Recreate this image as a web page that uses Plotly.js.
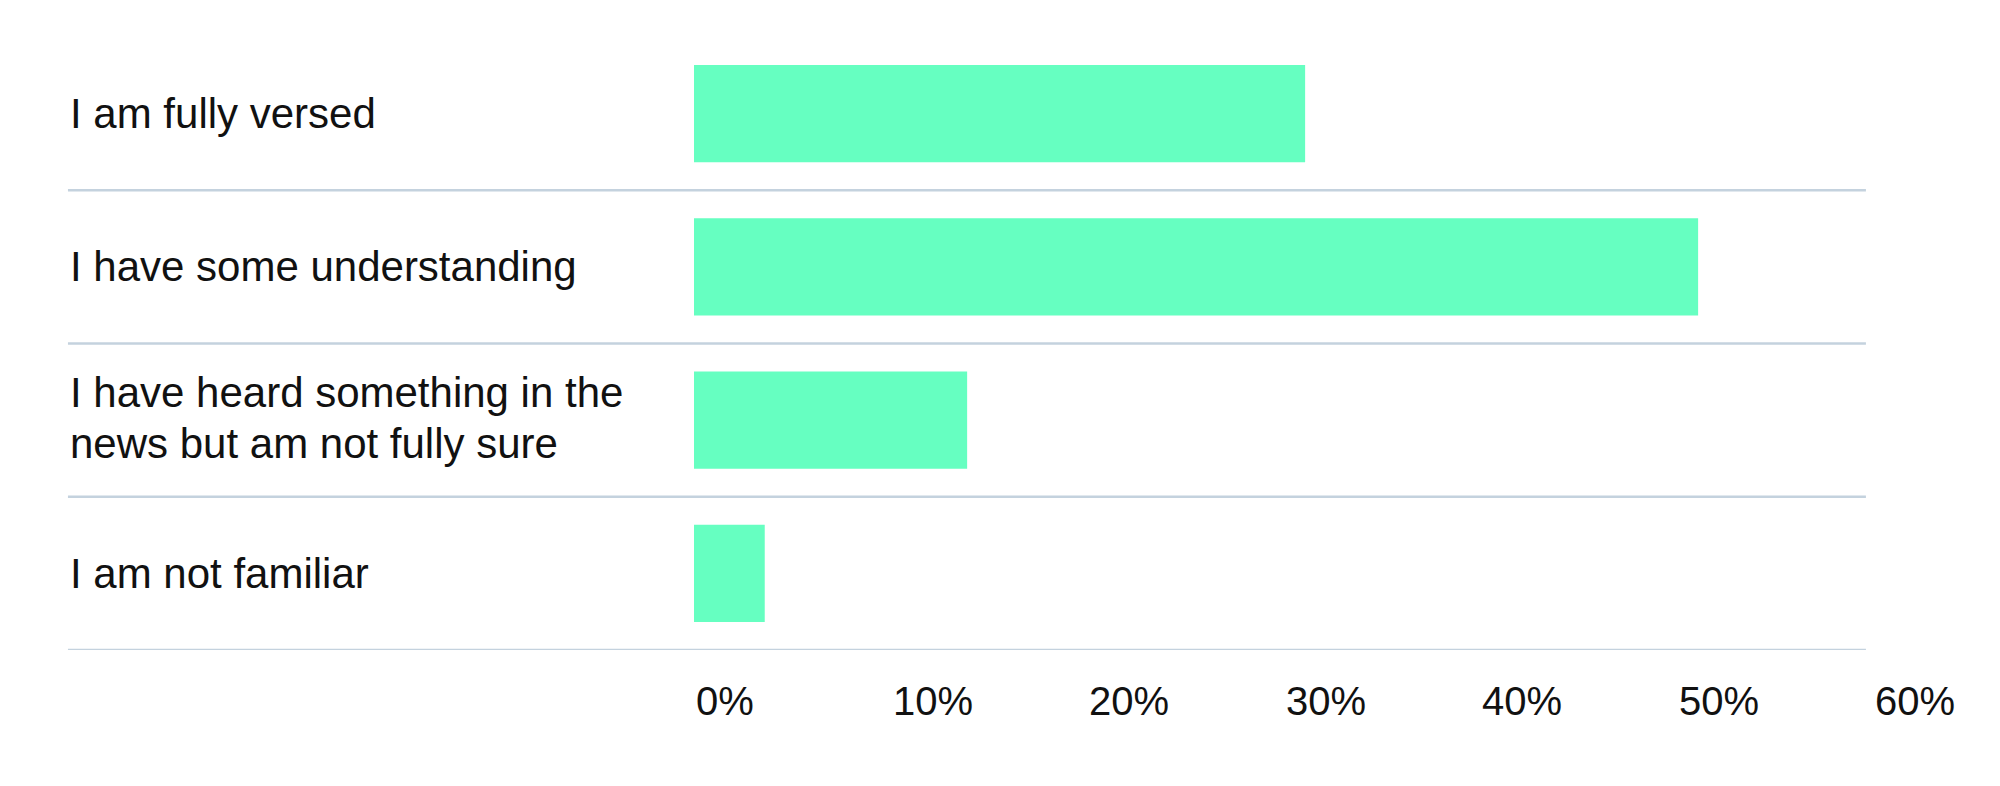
<!DOCTYPE html>
<html>
<head>
<meta charset="utf-8">
<script src="https://cdn.plot.ly/plotly-3.0.1.min.js"></script>
<style>
  html, body { margin: 0; padding: 0; background: #ffffff; }
  #chart { width: 2000px; height: 786px; }
</style>
</head>
<body>
<div id="chart"></div>
<script>
// ---- data ----
const categories = [
  "I am fully versed",
  "I have some understanding",
  "I have heard something in the<br>news but am not fully sure",
  "I am not familiar"
];
const values = [31.1, 51.1, 13.9, 3.6];
const tickValues = [0, 10, 20, 30, 40, 50, 60];
const tickLabels = ["0%", "10%", "20%", "30%", "40%", "50%", "60%"];

// ---- styling ----
const barColor = "#66ffc1";
const lineColor = "#c4d2de";
const textColor = "#111111";
const fontFamily = "Liberation Sans, Arial, sans-serif";
const labelLineHeight = 51;

const idx = categories.map((_, i) => i);

const trace = {
  type: "bar",
  orientation: "h",
  x: values,
  y: idx,
  marker: { color: barColor, line: { width: 0 } },
  width: 0.633,
  hoverinfo: "skip"
};

// separator lines below each category
const shapes = idx.map(i => ({
  type: "line",
  xref: "paper", yref: "y",
  x0: -0.531, x1: 0.994,
  y0: i + 0.5, y1: i + 0.5,
  line: { color: lineColor, width: 2.5 }
}));

// left-aligned category labels, one annotation per text line
const annotations = [];
categories.forEach((c, i) => {
  const lines = c.split("<br>");
  lines.forEach((ln, j) => {
    annotations.push({
      xref: "paper", yref: "y",
      x: -0.531, y: i,
      xanchor: "left", yanchor: "middle",
      align: "left",
      yshift: -(j - (lines.length - 1) / 2) * labelLineHeight + (lines.length > 1 ? 2 : 0),
      text: ln,
      showarrow: false,
      font: { family: fontFamily, size: 42, color: textColor }
    });
  });
});

// left-aligned x tick labels placed at the axis values
tickValues.forEach((v, k) => {
  annotations.push({
    xref: "x", yref: "paper",
    x: v, y: 0,
    xanchor: "left", yanchor: "middle",
    yshift: -51,
    text: tickLabels[k],
    showarrow: false,
    font: { family: fontFamily, size: 40, color: textColor }
  });
});

const layout = {
  width: 2000,
  height: 786,
  margin: { l: 694, r: 127, t: 37, b: 136 },
  paper_bgcolor: "#ffffff",
  plot_bgcolor: "#ffffff",
  showlegend: false,
  font: { family: fontFamily, size: 40, color: textColor },
  xaxis: {
    range: [0, 60],
    tickmode: "array",
    tickvals: tickValues,
    showticklabels: false,
    ticks: "",
    showgrid: false,
    zeroline: false,
    showline: false,
    fixedrange: true
  },
  yaxis: {
    range: [3.5, -0.5],
    showticklabels: false,
    showgrid: false,
    zeroline: false,
    showline: false,
    ticks: "",
    fixedrange: true
  },
  shapes: shapes,
  annotations: annotations
};

Plotly.newPlot("chart", [trace], layout, { displayModeBar: false, staticPlot: true });
</script>
</body>
</html>
